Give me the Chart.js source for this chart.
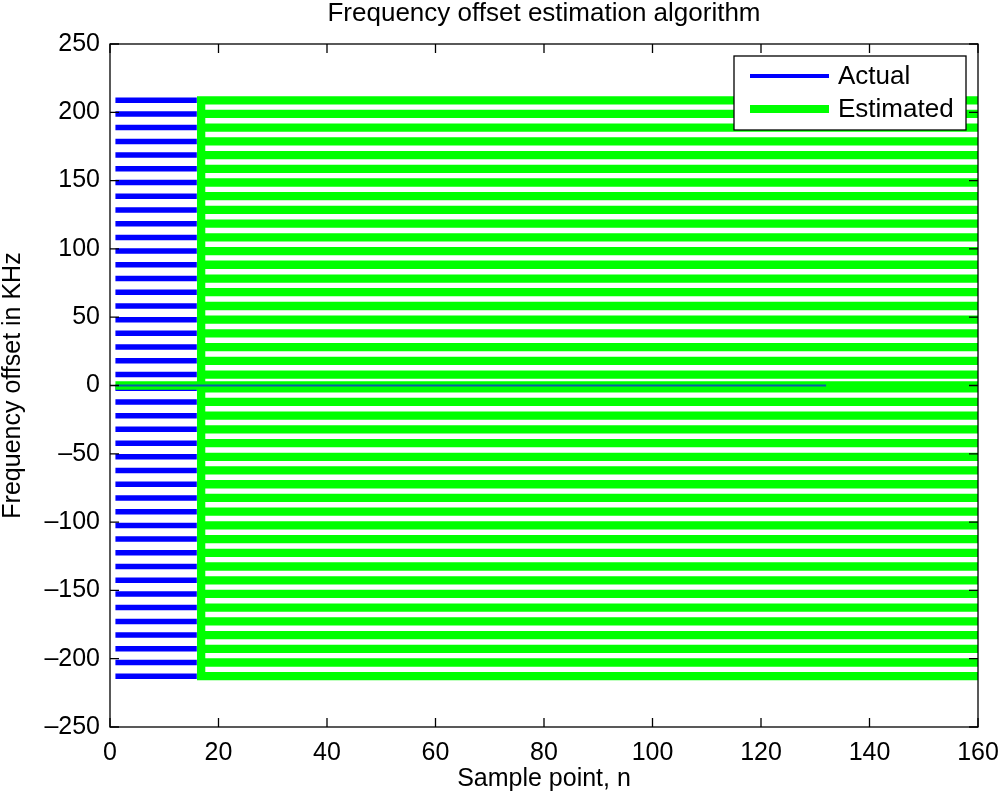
<!DOCTYPE html>
<html>
<head>
<meta charset="utf-8">
<script src="https://cdn.jsdelivr.net/npm/chart.js@4"></script>
<style>
  body { margin: 0; background: #fff; }
  #chart { display: block; }
</style>
</head>
<body>
<canvas id="chart" width="1000" height="799"></canvas>
<script>
// frequency levels of the horizontal traces (KHz)
const levels = [208.8, 198.8, 188.8, 178.7, 168.7, 158.6, 148.6, 138.6, 128.5, 118.5,
    108.4, 98.4, 88.4, 78.3, 68.3, 58.2, 48.2, 38.2, 28.1, 18.1, 8.0,
    -2.0,
    -12.0, -22.1, -32.1, -42.2, -52.2, -62.2, -72.3, -82.3, -92.4, -102.4,
    -112.4, -122.5, -132.5, -142.6, -152.6, -162.6, -172.7, -182.7, -192.8, -202.8, -212.8];

const actualRange = [1, 16];        // sample points covered by the actual traces
const estimatedRange = [16.8, 160]; // sample points covered by the estimated traces
const estZeroRange = [1, 160];      // estimated trace sitting on 0
const zeroRange = [1, 132];         // thin actual trace on 0
const zeroLevel = 0;

const xTicks = [0, 20, 40, 60, 80, 100, 120, 140, 160];
const yTicks = [-250, -200, -150, -100, -50, 0, 50, 100, 150, 200, 250];

const FONT = 'Liberation Sans, Arial, Helvetica, sans-serif';
const GAP = { x: NaN, y: NaN };

// blue comb: one horizontal piece per level
const actualData = [];
levels.forEach((lv) => {
    actualData.push({ x: actualRange[0], y: lv }, { x: actualRange[1], y: lv }, GAP);
});

// green comb: outer levels joined by the vertical spine, inner levels hang off it
const topLevel = levels[0];
const bottomLevel = levels[levels.length - 1];
const estimatedData = [
    { x: estimatedRange[1], y: topLevel }, { x: estimatedRange[0], y: topLevel },
    { x: estimatedRange[0], y: bottomLevel }, { x: estimatedRange[1], y: bottomLevel }, GAP
];
levels.slice(1, -1).forEach((lv) => {
    estimatedData.push({ x: estimatedRange[0], y: lv }, { x: estimatedRange[1], y: lv }, GAP);
});
estimatedData.push({ x: estZeroRange[0], y: zeroLevel }, { x: estZeroRange[1], y: zeroLevel });

const zeroData = [{ x: zeroRange[0], y: zeroLevel }, { x: zeroRange[1], y: zeroLevel }];

const fmt = (v) => String(v).replace('-', '\u2013');

// box, inward ticks, title and legend like the original figure
const figurePlugin = {
    id: 'figure',
    afterDraw(chart) {
        const { ctx, chartArea: a, scales } = chart;
        ctx.save();
        ctx.strokeStyle = '#000';
        ctx.lineWidth = 1.3;
        ctx.strokeRect(a.left, a.top, a.right - a.left, a.bottom - a.top);
        const tl = 9;
        ctx.beginPath();
        xTicks.forEach((v) => {
            const px = scales.x.getPixelForValue(v);
            ctx.moveTo(px, a.bottom); ctx.lineTo(px, a.bottom - tl);
            ctx.moveTo(px, a.top); ctx.lineTo(px, a.top + tl);
        });
        yTicks.forEach((v) => {
            const py = scales.y.getPixelForValue(v);
            ctx.moveTo(a.left, py); ctx.lineTo(a.left + tl, py);
            ctx.moveTo(a.right, py); ctx.lineTo(a.right - tl, py);
        });
        ctx.stroke();

        // title
        ctx.fillStyle = '#000';
        ctx.font = '26px ' + FONT;
        ctx.textAlign = 'center';
        ctx.textBaseline = 'middle';
        ctx.fillText('Frequency offset estimation algorithm', (a.left + a.right) / 2, 14);

        // legend
        const lx = 734, ly = 56, lw = 232, lh = 74;
        ctx.fillStyle = '#fff';
        ctx.fillRect(lx, ly, lw, lh);
        ctx.lineWidth = 1.3;
        ctx.strokeRect(lx, ly, lw, lh);
        const items = chart.data.datasets.filter((d) => d.label);
        items.forEach((d, i) => {
            const y = 76 + i * 33;
            ctx.strokeStyle = d.borderColor;
            ctx.lineWidth = d.legendWidth;
            ctx.beginPath();
            ctx.moveTo(750, y); ctx.lineTo(829, y);
            ctx.stroke();
            ctx.fillStyle = '#000';
            ctx.textAlign = 'left';
            ctx.fillText(d.label, 838, y + 1);
        });
        ctx.restore();
    }
};

config = {
    type: 'scatter',
    data: {
        datasets: [{
            label: 'Actual',
            data: actualData,
            borderColor: '#0000ff',
            borderWidth: 5.5,
            legendWidth: 4,
            order: 3
        }, {
            label: 'Estimated',
            data: estimatedData,
            borderColor: '#00ff00',
            borderWidth: 8.3,
            legendWidth: 8,
            order: 2
        }, {
            label: '',
            data: zeroData,
            borderColor: '#0a5fa8',
            borderWidth: 2,
            legendWidth: 2,
            order: 1
        }]
    },
    options: {
        responsive: false,
        animation: false,
        showLine: true,
        spanGaps: false,
        elements: {
            point: { radius: 0, hoverRadius: 0 },
            line: { borderCapStyle: 'butt', borderJoinStyle: 'miter', tension: 0 }
        },
        layout: { padding: { top: 44, right: 22, left: 0, bottom: 0 } },
        scales: {
            x: {
                type: 'linear',
                min: 0,
                max: 160,
                afterFit: (s) => { s.height = 72; s.paddingLeft = 0; s.paddingRight = 0; },
                afterBuildTicks: (s) => { s.ticks = xTicks.map((v) => ({ value: v })); },
                grid: { display: false, drawTicks: false },
                border: { display: false },
                ticks: { color: '#000', padding: 11, maxRotation: 0, font: { family: FONT, size: 25 }, callback: fmt },
                title: { display: true, text: 'Sample point, n', color: '#000', padding: { top: 0, bottom: 5 }, font: { family: FONT, size: 25 } }
            },
            y: {
                type: 'linear',
                min: -250,
                max: 250,
                afterFit: (s) => { s.width = 110; s.paddingTop = 0; s.paddingBottom = 0; },
                afterBuildTicks: (s) => { s.ticks = yTicks.map((v) => ({ value: v })); },
                grid: { display: false, drawTicks: false },
                border: { display: false },
                ticks: { color: '#000', padding: 10, font: { family: FONT, size: 25 }, callback: fmt },
                title: { display: true, text: 'Frequency offset in KHz', color: '#000', padding: { top: 0, bottom: 0 }, font: { family: FONT, size: 25, lineHeight: 1.05 } }
            }
        },
        plugins: {
            legend: { display: false },
            title: { display: false },
            tooltip: { enabled: false }
        }
    },
    plugins: [figurePlugin]
};

function buildChart() {
    const ctx = document.getElementById('chart').getContext('2d');
    return new Chart(ctx, config);
}

buildChart();
</script>
</body>
</html>
